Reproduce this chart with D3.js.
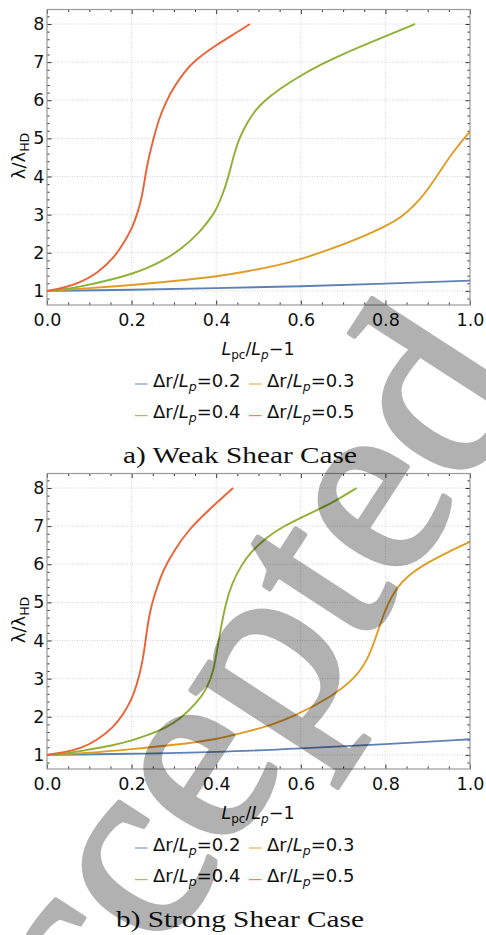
<!DOCTYPE html>
<html>
<head>
<meta charset="utf-8">
<script src="https://cdn.jsdelivr.net/npm/d3@7"></script>
<style>
  body { margin: 0; background: #fff; }
  svg { display: block; }
</style>
</head>
<body>
<div class="chart"></div>
<script>
// tick values
const xTicks = [0, 0.2, 0.4, 0.6, 0.8, 1.0];
const yTicks = [1, 2, 3, 4, 5, 6, 7, 8];
const ratioLabels = ["0.2", "0.3", "0.4", "0.5"];
const captions = ["a) Weak Shear Case", "b) Strong Shear Case"];

// a) weak shear, [x, lambda/lambda_HD]
const weak02 = [[0,1],[0.2,1.03],[0.4,1.07],[0.6,1.12],[0.8,1.19],[1.0,1.27]];
const weak03 = [[0,1],[0.1,1.07],[0.2,1.15],[0.3,1.26],[0.4,1.376],[0.473,1.51],[0.55,1.68],[0.6,1.83],[0.7,2.2],[0.8,2.68],[0.84,2.95],[0.87,3.25],[0.9,3.65],[0.93,4.15],[0.96,4.65],[1.0,5.18]];
const weak04 = [[0,1],[0.04,1.04],[0.079,1.11],[0.158,1.31],[0.201,1.45],[0.236,1.59],[0.276,1.8],[0.315,2.08],[0.355,2.47],[0.378,2.78],[0.398,3.08],[0.41,3.39],[0.422,3.74],[0.432,4.13],[0.441,4.53],[0.453,4.96],[0.465,5.23],[0.473,5.4],[0.49,5.7],[0.51,5.95],[0.55,6.3],[0.6,6.65],[0.65,6.95],[0.7,7.22],[0.8,7.68],[0.87,8.0]];
const weak05 = [[0,1],[0.04,1.08],[0.079,1.22],[0.118,1.45],[0.158,1.86],[0.181,2.25],[0.201,2.64],[0.213,3.0],[0.225,3.48],[0.232,4.0],[0.24,4.48],[0.252,5.0],[0.264,5.49],[0.28,5.93],[0.3,6.35],[0.325,6.75],[0.35,7.05],[0.4,7.45],[0.44,7.72],[0.48,8.0]];

// b) strong shear
const strong02 = [[0,1],[0.2,1.03],[0.4,1.07],[0.6,1.17],[0.8,1.28],[1.0,1.41]];
const strong03 = [[0,1],[0.1,1.05],[0.2,1.15],[0.3,1.26],[0.4,1.4],[0.473,1.61],[0.53,1.78],[0.582,2.0],[0.669,2.5],[0.728,3.0],[0.758,3.5],[0.775,4.0],[0.79,4.5],[0.805,4.95],[0.825,5.35],[0.85,5.68],[0.9,6.05],[0.95,6.33],[1.0,6.59]];
const strong04 = [[0,1],[0.04,1.03],[0.079,1.1],[0.158,1.25],[0.201,1.38],[0.236,1.51],[0.276,1.68],[0.315,1.94],[0.355,2.38],[0.378,2.73],[0.394,3.21],[0.402,3.74],[0.41,4.26],[0.422,4.96],[0.437,5.49],[0.457,5.93],[0.48,6.3],[0.52,6.72],[0.56,7.0],[0.6,7.22],[0.677,7.62],[0.732,8.0]];
const strong05 = [[0,1],[0.04,1.07],[0.079,1.16],[0.118,1.38],[0.158,1.73],[0.181,2.08],[0.201,2.47],[0.213,2.86],[0.225,3.39],[0.232,3.91],[0.24,4.57],[0.248,4.96],[0.26,5.4],[0.276,5.88],[0.3,6.35],[0.334,6.9],[0.38,7.4],[0.44,8.0]];

const colors = ["#5e81b5", "#e19c24", "#8fb032", "#eb6235"];

const width = 486, height = 935;
const svg = d3.select(".chart").append("svg")
    .attr("width", width)
    .attr("height", height);

const sans = "'DejaVu Sans', sans-serif";

function drawPanel(top, series, caption) {
    const g = svg.append("g").attr("transform", `translate(0,${top})`);
    const h = 295.5;

    const xScale = d3.scaleLinear().domain([0, 1]).range([47, 470]);
    const yScale = d3.scaleLinear().domain([0.63, 8.38]).range([h, 0]);

    // dotted grid
    g.append("g").selectAll("line")
        .data(xTicks.slice(1, -1))
        .join("line")
        .attr("x1", d => xScale(d)).attr("x2", d => xScale(d))
        .attr("y1", 0).attr("y2", h)
        .attr("stroke", "#d4d4d4").attr("stroke-dasharray", "1,1.5");
    g.append("g").selectAll("line")
        .data(yTicks)
        .join("line")
        .attr("x1", 47).attr("x2", 470)
        .attr("y1", d => yScale(d)).attr("y2", d => yScale(d))
        .attr("stroke", "#d4d4d4").attr("stroke-dasharray", "1,1.5");

    const xMinor = d3.range(0, 21).map(i => i * 0.05).filter(v => Math.round(v * 100) % 20 !== 0);
    const yMinor = d3.range(1, 43).map(i => 0.6 + i * 0.2).filter(v => v < 8.38 && Math.abs(v - Math.round(v)) > 0.01);

    const axes = [
        [d3.axisBottom(xScale).tickValues(xTicks).tickSize(-4.5).tickPadding(9).tickFormat(d3.format(".1f")), `translate(0,${h})`],
        [d3.axisBottom(xScale).tickValues(xMinor).tickSize(-2.5).tickFormat(""), `translate(0,${h})`],
        [d3.axisTop(xScale).tickValues(xTicks).tickSize(-4.5).tickFormat(""), "translate(0,0)"],
        [d3.axisTop(xScale).tickValues(xMinor).tickSize(-2.5).tickFormat(""), "translate(0,0)"],
        [d3.axisLeft(yScale).tickValues(yTicks).tickSize(-4.5).tickPadding(2.5), "translate(47,0)"],
        [d3.axisLeft(yScale).tickValues(yMinor).tickSize(-2.5).tickFormat(""), "translate(47,0)"],
        [d3.axisRight(yScale).tickValues(yTicks).tickSize(-4.5).tickFormat(""), "translate(470,0)"],
        [d3.axisRight(yScale).tickValues(yMinor).tickSize(-2.5).tickFormat(""), "translate(470,0)"]
    ];
    axes.forEach(([ax, tr]) => {
        const a = g.append("g").attr("transform", tr).call(ax);
        a.select(".domain").remove();
        a.selectAll("line").attr("stroke", "#333");
        a.selectAll("text").attr("font-family", sans).attr("font-size", "17.5px").attr("fill", "#111");
    });

    g.append("rect")
        .attr("x", 47).attr("y", 0).attr("width", 423).attr("height", h)
        .attr("fill", "none").attr("stroke", "#999").attr("stroke-width", 1.2);

    const line = d3.line()
        .x(d => xScale(d[0]))
        .y(d => yScale(d[1]))
        .curve(d3.curveBasis);

    g.append("g").selectAll("path")
        .data(series)
        .join("path")
        .attr("d", d => line(d))
        .attr("fill", "none")
        .attr("stroke", (d, i) => colors[i])
        .attr("stroke-width", 1.9);

    // y label
    const yl = g.append("text")
        .attr("transform", "translate(24.5,146.5) rotate(-90)")
        .attr("text-anchor", "middle")
        .attr("font-family", sans).attr("font-size", "18px").attr("fill", "#111");
    yl.append("tspan").text("λ/λ");
    yl.append("tspan").attr("dy", 4).attr("font-size", "12.5px").text("HD");

    // x label
    const xl = g.append("text")
        .attr("x", 258).attr("y", 345.5)
        .attr("text-anchor", "middle")
        .attr("font-family", sans).attr("font-size", "17.5px").attr("fill", "#111");
    xl.append("tspan").attr("font-style", "italic").text("L");
    xl.append("tspan").attr("dy", 4).attr("font-size", "12px").text("pc");
    xl.append("tspan").attr("dy", -4).text("/");
    xl.append("tspan").attr("font-style", "italic").text("L");
    xl.append("tspan").attr("dy", 4).attr("font-size", "12px").attr("font-style", "italic").text("p");
    xl.append("tspan").attr("dy", -4).text("−1");

    // legend
    ratioLabels.forEach((r, i) => {
        const lx = i % 2 === 0 ? 135 : 249;
        const ly = 377 + Math.floor(i / 2) * 31.6;
        g.append("line")
            .attr("x1", lx).attr("x2", lx + 12.5)
            .attr("y1", ly - 2.5).attr("y2", ly - 2.5)
            .attr("stroke", colors[i]).attr("stroke-width", 1.2).attr("stroke-opacity", 0.8);
        const t = g.append("text")
            .attr("x", lx + 18).attr("y", ly)
            .attr("font-family", sans).attr("font-size", "18px").attr("fill", "#111");
        t.append("tspan").text("Δr/");
        t.append("tspan").attr("font-style", "italic").text("L");
        t.append("tspan").attr("dy", 4).attr("font-size", "12.5px").attr("font-style", "italic").text("p");
        t.append("tspan").attr("dy", -4).text("=" + r);
    });

    // caption
    g.append("text")
        .attr("x", 240).attr("y", 453.2)
        .attr("text-anchor", "middle")
        .attr("font-family", "'Liberation Serif', serif")
        .attr("font-size", "23px")
        .attr("fill", "#111")
        .attr("textLength", caption.length > 18 ? 248 : 234)
        .attr("lengthAdjust", "spacingAndGlyphs")
        .text(caption);
}

drawPanel(9.5, [weak02, weak03, weak04, weak05], captions[0]);
drawPanel(473.5, [strong02, strong03, strong04, strong05], captions[1]);

// watermark
svg.append("g")
    .attr("opacity", 0.3)
    .append("text")
    .attr("transform", "translate(265,797) rotate(-57)")
    .attr("text-anchor", "middle")
    .attr("font-family", "'Liberation Serif', serif")
    .attr("font-size", "262px")
    .attr("fill", "#000")
    .attr("stroke", "#000")
    .attr("stroke-width", 5)
    .attr("stroke-linejoin", "round")
    .text("Accepted");
</script>
</body>
</html>
